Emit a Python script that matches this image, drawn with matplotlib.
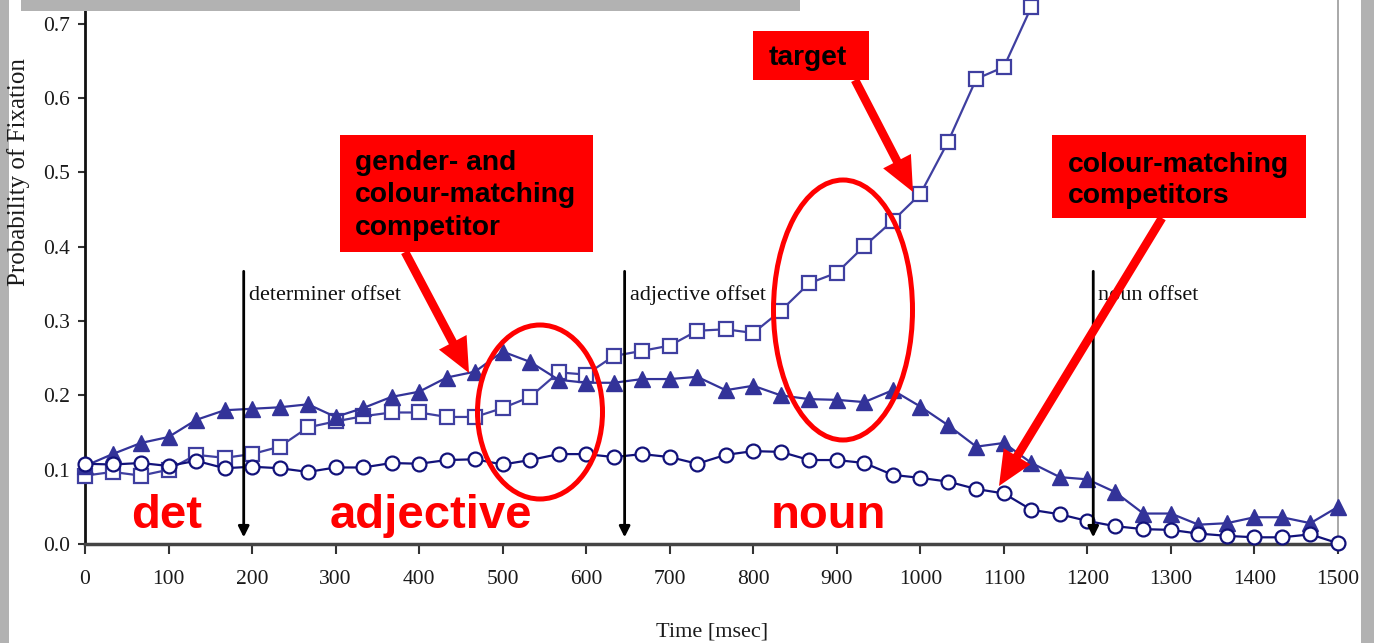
import matplotlib.pyplot as plt
from matplotlib.patches import Rectangle, Ellipse, FancyArrowPatch

W, H = 1374, 643

time_ms = [0, 33, 67, 100, 133, 167, 200, 233, 267, 300, 333, 367, 400, 433, 467, 500,
           533, 567, 600, 633, 667, 700, 733, 767, 800, 833, 867, 900, 933, 967, 1000,
           1033, 1067, 1100, 1133, 1167, 1200, 1233, 1267, 1300, 1333, 1367, 1400, 1433,
           1467, 1500]

# target (open squares) - leaves the plot at the top after 1133 ms
target = [0.092, 0.097, 0.092, 0.100, 0.120, 0.116, 0.121, 0.131, 0.157, 0.165, 0.172,
          0.177, 0.177, 0.171, 0.171, 0.183, 0.198, 0.231, 0.228, 0.253, 0.260, 0.267,
          0.287, 0.289, 0.284, 0.314, 0.351, 0.365, 0.401, 0.435, 0.471, 0.541, 0.626,
          0.642, 0.723, 0.800]

# gender- and colour-matching competitor (filled triangles)
gender_colour = [0.105, 0.121, 0.136, 0.144, 0.167, 0.180, 0.182, 0.184, 0.188, 0.171,
                 0.183, 0.198, 0.205, 0.224, 0.232, 0.259, 0.245, 0.221, 0.217, 0.217,
                 0.222, 0.222, 0.225, 0.207, 0.213, 0.200, 0.195, 0.194, 0.191, 0.207,
                 0.185, 0.160, 0.131, 0.136, 0.109, 0.090, 0.087, 0.070, 0.041, 0.041,
                 0.026, 0.028, 0.036, 0.036, 0.028, 0.050]

# colour-matching competitors (open circles)
colour_only = [0.108, 0.107, 0.109, 0.105, 0.112, 0.102, 0.104, 0.102, 0.097, 0.103,
               0.103, 0.109, 0.108, 0.113, 0.114, 0.107, 0.113, 0.121, 0.121, 0.117,
               0.121, 0.117, 0.108, 0.120, 0.125, 0.124, 0.113, 0.113, 0.109, 0.093,
               0.089, 0.084, 0.074, 0.068, 0.046, 0.040, 0.031, 0.024, 0.020, 0.019,
               0.014, 0.011, 0.009, 0.009, 0.013, 0.001]

offset_ms = [190, 646, 1207]
offset_labels = ['determiner offset', 'adjective offset', 'noun offset']

x_ticks = list(range(0, 1501, 100))
y_ticks = [0.0, 0.1, 0.2, 0.3, 0.4, 0.5, 0.6, 0.7]


def px(x, y):
    # pixel position (from top left) -> figure fraction
    return x / W, 1 - y / H


fig = plt.figure(figsize=(W / 100, H / 100), dpi=100, facecolor='#b2b2b2')
fig.patches.append(Rectangle(px(9, H), 1352 / W, 1, transform=fig.transFigure,
                             facecolor='white', edgecolor='none', zorder=-10))

ax = fig.add_axes([85 / W, 99 / H, (1338 - 85) / W, 1 - 99 / H])
ax.set_facecolor('white')
ax.set_xlim(0, 1500)
ax.set_ylim(0, 544 / 743)

ax.plot(time_ms[:len(target)], target, color='#3f3fa0', lw=1.6, marker='s', ms=10,
        mfc='white', mec='#3f3fa0', mew=1.6, zorder=3, clip_on=False)
ax.plot(time_ms, gender_colour, color='#333399', lw=1.6, marker='^', ms=11,
        mfc='#333399', mec='#333399', zorder=4, clip_on=False)
ax.plot(time_ms, colour_only, color='#12127a', lw=1.6, marker='o', ms=10,
        mfc='white', mec='#12127a', mew=1.6, zorder=5, clip_on=False)

for ms, lab in zip(offset_ms, offset_labels):
    ax.annotate('', xy=(ms, 0.009), xytext=(ms, 0.367),
                arrowprops=dict(arrowstyle='-|>', color='black', lw=2,
                                mutation_scale=16, shrinkA=0, shrinkB=0), zorder=6)
    ax.text(ms + 6, 0.329, lab, fontsize=16, family='Liberation Serif', color='#111111',
            ha='left', va='baseline', zorder=6)

ax.set_xticks(x_ticks)
ax.set_yticks(y_ticks)
ax.set_yticklabels(['%.1f' % v for v in y_ticks])
for lbl in ax.get_xticklabels() + ax.get_yticklabels():
    lbl.set_family('Liberation Serif')
    lbl.set_fontsize(15.5)
    lbl.set_color('#1a1a1a')
ax.tick_params(axis='x', direction='out', length=7, width=1.5, pad=12, color='#333333')
ax.tick_params(axis='y', direction='out', length=5, width=1.5, pad=6, color='#333333')
ax.spines['top'].set_visible(False)
ax.spines['left'].set_linewidth(2)
ax.spines['left'].set_color('#111111')
ax.spines['bottom'].set_linewidth(2.5)
ax.spines['bottom'].set_color('#444444')
ax.spines['right'].set_linewidth(1.2)
ax.spines['right'].set_color('#999999')

fig.text(*px(19, 172), 'Probability of Fixation', rotation=90, ha='center', va='center',
         fontsize=18, family='Liberation Serif', color='#1a1a1a')
fig.text(*px(712, 632), 'Time [msec]', ha='center', va='center',
         fontsize=16, family='Liberation Serif', color='#1a1a1a')

# gray title strip cut at the top
fig.patches.append(Rectangle(px(21, 11), (800 - 21) / W, 11 / H, transform=fig.transFigure,
                             facecolor='#b2b2b2', edgecolor='none', zorder=10))

# red annotation boxes
boxes = [(753, 31, 869, 80), (340, 135, 593, 252), (1052, 135, 1306, 218)]
for x0, y0, x1, y1 in boxes:
    fig.patches.append(Rectangle(px(x0, y1), (x1 - x0) / W, (y1 - y0) / H,
                                 transform=fig.transFigure, facecolor='#ff0000',
                                 edgecolor='none', zorder=10))

box_lines = [(769, 65, 'target'),
             (355, 170, 'gender- and'), (355, 202, 'colour-matching'), (355, 235, 'competitor'),
             (1068, 172, 'colour-matching'), (1068, 203, 'competitors')]
for x, y, s in box_lines:
    fig.text(*px(x, y), s, ha='left', va='baseline', fontsize=20.3, fontweight='bold',
             family='Liberation Sans', color='black', zorder=11)

# word regions
for x, s in [(131, 'det'), (330, 'adjective'), (771, 'noun')]:
    fig.text(*px(x, 528), s, ha='left', va='baseline', fontsize=34, fontweight='bold',
             family='Liberation Sans', color='#ff0000', zorder=11)

# red ellipses
for cx, cy, w, h in [(540, 412, 125, 174), (843, 310, 139, 260)]:
    fig.patches.append(Ellipse(px(cx, cy), w / W, h / H, transform=fig.transFigure,
                               facecolor='none', edgecolor='#ff0000', lw=3.6, zorder=12))

# red arrows
for (x0, y0), (x1, y1) in [((405, 252), (469, 373)), ((855, 80), (913, 192)),
                           ((1162, 218), (999, 486))]:
    fig.patches.append(FancyArrowPatch(px(x0, y0), px(x1, y1), transform=fig.transFigure,
                                       arrowstyle='simple,tail_width=0.25,head_width=0.9,head_length=1.0',
                                       mutation_scale=25, facecolor='#ff0000',
                                       edgecolor='none', shrinkA=0, shrinkB=0, zorder=12))

fig.savefig('out.png', dpi=100, facecolor=fig.get_facecolor())
